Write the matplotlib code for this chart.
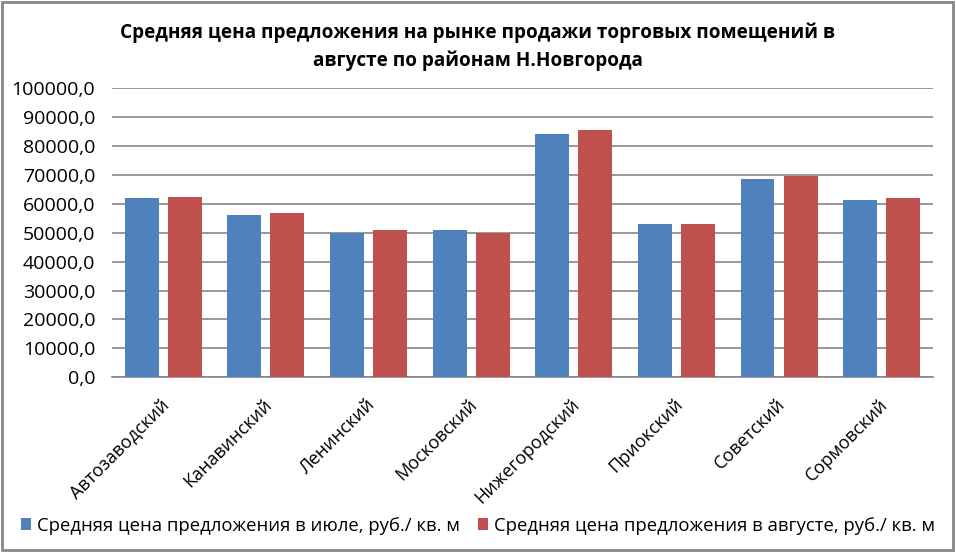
import numpy as np
import matplotlib.pyplot as plt
import matplotlib.transforms as mtransforms
from matplotlib.patches import Rectangle

plt.rcParams['font.family'] = ['Open Sans', 'DejaVu Sans']

# data
districts = ["Автозаводский", "Канавинский", "Ленинский", "Московский",
             "Нижегородский", "Приокский", "Советский", "Сормовский"]
july = [62200, 56000, 50000, 51100, 84300, 52900, 68700, 61200]
august = [62500, 57000, 50800, 50100, 85600, 52900, 69500, 62200]
yticks = np.arange(0, 100001, 10000)

title = ("Средняя цена предложения на рынке продажи торговых помещений в\n"
         "августе по районам Н.Новгорода")
label_july = "Средняя цена предложения в июле, руб./ кв. м"
label_aug = "Средняя цена предложения в августе, руб./ кв. м"

blue = "#4f81bd"
red = "#c0504d"

fig = plt.figure(figsize=(9.56, 5.52), dpi=100)
fig.patches.append(Rectangle((0.002, 0.003), 0.995, 0.993, transform=fig.transFigure,
                             fill=False, edgecolor="#868686", lw=2))

ax = fig.add_axes([0.117, 0.3165, 0.859, 0.5235])
x = np.arange(len(districts))
w = 0.33
ax.bar(x - 0.21, july, w, color=blue, label=label_july, zorder=3)
ax.bar(x + 0.21, august, w, color=red, label=label_aug, zorder=3)

ax.set_xlim(-0.5, len(districts) - 0.5)
ax.set_ylim(0, 100000)
ax.set_yticks(yticks)
ax.set_yticklabels([f"{v:.1f}".replace(".", ",") for v in yticks], fontsize=14)
ax.yaxis.grid(True, color="#868686", lw=1.2, zorder=0)
ax.tick_params(axis="y", length=0, pad=12)
ax.tick_params(axis="x", length=0, pad=13)
ax.set_xticks(x)
ax.set_xticklabels(districts, rotation=45, ha="right", va="top",
                   rotation_mode="anchor", fontsize=13)
shift = mtransforms.ScaledTranslation(-3 / 100, 0, fig.dpi_scale_trans)
for lbl in ax.get_xticklabels():
    lbl.set_transform(lbl.get_transform() + shift)
for s in ["top", "right", "left"]:
    ax.spines[s].set_visible(False)
ax.spines["bottom"].set_color("#868686")
ax.spines["bottom"].set_linewidth(1.2)

fig.text(0.5, 0.915, title, ha="center", va="center", fontsize=13.7,
         fontweight="bold", linespacing=1.45)

fig.legend(loc="center", bbox_to_anchor=(0.5, 0.048), ncol=2, frameon=False,
           fontsize=13.3, handlelength=0.55, handleheight=0.55, handletextpad=0.3,
           columnspacing=1.0)

fig.savefig("out.png", dpi=100)
